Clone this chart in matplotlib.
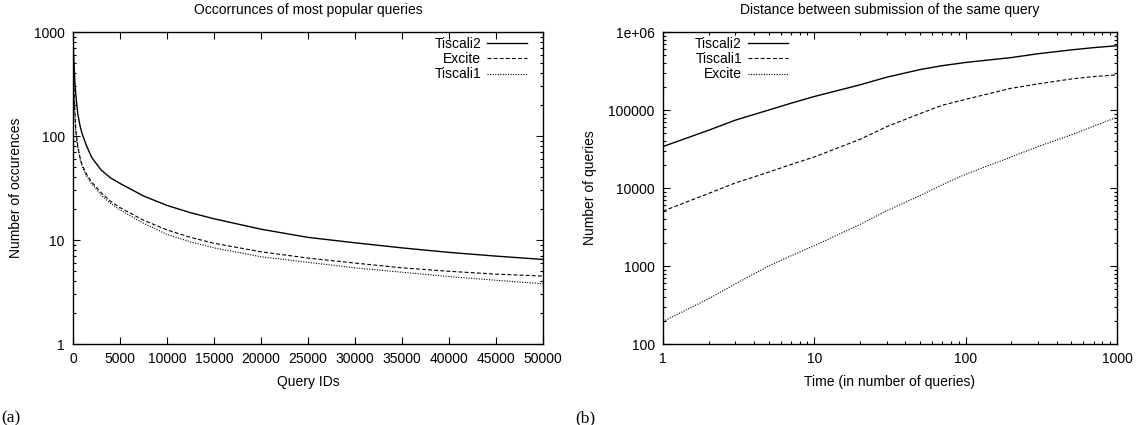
import matplotlib
matplotlib.use("Agg")
import matplotlib.pyplot as plt
from matplotlib.ticker import FixedLocator, LogLocator, NullFormatter, FixedFormatter

# ---------------- data (a) ----------------
query_ids = [1, 50, 100, 200, 300, 500, 750, 1000, 1500, 2000, 3000, 4000, 5000,
             7500, 10000, 12500, 15000, 20000, 25000, 30000, 35000, 40000, 45000, 50000]
occ_tiscali2 = [980, 650, 520, 330, 250, 165, 125, 103, 78, 62, 47, 39.5, 35,
                26.5, 21.5, 18.3, 16.0, 12.7, 10.6, 9.4, 8.4, 7.6, 7.0, 6.5]
occ_excite = [850, 420, 300, 170, 115, 80, 62, 52, 42, 36, 28.5, 23.5, 20.5,
              15.5, 12.5, 10.6, 9.3, 7.7, 6.7, 6.0, 5.4, 5.0, 4.7, 4.5]
occ_tiscali1 = [750, 380, 270, 160, 110, 78, 60, 50, 40, 34.5, 27, 22.5, 19.5,
                14.5, 11.3, 9.6, 8.4, 6.9, 6.1, 5.4, 4.9, 4.45, 4.1, 3.8]

# ---------------- data (b) ----------------
time_q = [1, 2, 3, 5, 7, 10, 20, 30, 50, 70, 100, 200, 300, 500, 700, 1000]
dist_tiscali2 = [34000, 55000, 74000, 100000, 122000, 149000, 210000, 263000,
                 330000, 370000, 407000, 470000, 526000, 590000, 630000, 667000]
dist_tiscali1 = [5060, 8500, 11600, 16000, 20000, 25000, 42000, 61000,
                 90000, 115000, 137000, 190000, 216000, 250000, 268000, 282000]
dist_excite = [194, 380, 590, 1000, 1350, 1820, 3400, 5100,
               8000, 11000, 15000, 25000, 34000, 48000, 62000, 80500]

a_xticks = [0, 5000, 10000, 15000, 20000, 25000, 30000, 35000, 40000, 45000, 50000]
a_yticks = [1, 10, 100, 1000]
a_ylabels = ["1", "10", "100", "1000"]
b_xticks = [1, 10, 100, 1000]
b_xlabels = ["1", "10", "100", "1000"]
b_yticks = [100, 1000, 10000, 100000, 1000000]
b_ylabels = ["100", "1000", "10000", "100000", "1e+06"]

plt.rcParams['font.family'] = ['Liberation Sans', 'DejaVu Sans']
FS = 10

fig = plt.figure(figsize=(11.36, 4.25), dpi=100)
axA = fig.add_axes([73/1136, 1-344/425, (543-73)/1136, (344-32)/425])
axB = fig.add_axes([663/1136, 1-344/425, (1117-663)/1136, (344-32)/425])

solid = dict(color='black', linewidth=1.0, linestyle='-')
dashed = dict(color='black', linewidth=0.8, linestyle=(0, (3.5, 2)))
dotted = dict(color='black', linewidth=0.8, linestyle=(0, (1, 1.3)))

leg_kw = dict(frameon=False, fontsize=FS, markerfirst=False, handlelength=2.9,
              handletextpad=0.4, labelspacing=0.1, borderaxespad=0.0, borderpad=0.0)

# (a)
axA.plot(query_ids, occ_tiscali2, label='Tiscali2', **solid)
axA.plot(query_ids, occ_excite, label='Excite', **dashed)
axA.plot(query_ids, occ_tiscali1, label='Tiscali1', **dotted)
axA.set_yscale('log')
axA.set_xlim(0, 50000)
axA.set_ylim(1, 1000)
axA.xaxis.set_major_locator(FixedLocator(a_xticks))
axA.set_xticklabels([str(t) for t in a_xticks])
axA.yaxis.set_major_locator(FixedLocator(a_yticks))
axA.yaxis.set_major_formatter(FixedFormatter(a_ylabels))
axA.yaxis.set_minor_locator(LogLocator(base=10, subs=range(2, 10)))
axA.yaxis.set_minor_formatter(NullFormatter())
axA.set_title('Occorrunces of most popular queries', fontsize=FS, pad=13)
axA.set_xlabel('Query IDs', fontsize=FS, labelpad=6)
axA.set_ylabel('Number of occurences', fontsize=FS, labelpad=8)
axA.legend(loc='upper right', bbox_to_anchor=(0.966, 0.985), **leg_kw)

# (b)
axB.plot(time_q, dist_tiscali2, label='Tiscali2', **solid)
axB.plot(time_q, dist_tiscali1, label='Tiscali1', **dashed)
axB.plot(time_q, dist_excite, label='Excite', **dotted)
axB.set_xscale('log')
axB.set_yscale('log')
axB.set_xlim(1, 1000)
axB.set_ylim(100, 1e6)
axB.xaxis.set_major_locator(FixedLocator(b_xticks))
axB.xaxis.set_major_formatter(FixedFormatter(b_xlabels))
axB.xaxis.set_minor_locator(LogLocator(base=10, subs=range(2, 10)))
axB.xaxis.set_minor_formatter(NullFormatter())
axB.yaxis.set_major_locator(FixedLocator(b_yticks))
axB.yaxis.set_major_formatter(FixedFormatter(b_ylabels))
axB.yaxis.set_minor_locator(LogLocator(base=10, subs=range(2, 10)))
axB.yaxis.set_minor_formatter(NullFormatter())
axB.set_title('Distance between submission of the same query', fontsize=FS, pad=13)
axB.set_xlabel('Time (in number of queries)', fontsize=FS, labelpad=6)
axB.set_ylabel('Number of queries', fontsize=FS, labelpad=8)
axB.legend(loc='upper right', bbox_to_anchor=(0.275, 0.985), **leg_kw)

for ax in (axA, axB):
    ax.tick_params(which='both', direction='in', top=True, right=True,
                   labelsize=FS, width=0.8, pad=6)
    ax.tick_params(which='major', length=5)
    ax.tick_params(which='minor', length=2.5)
    for s in ax.spines.values():
        s.set_linewidth(1.0)

fig.text(1/1136, 1-418/425, '(a)', family=['Liberation Serif', 'DejaVu Serif'],
         fontsize=12.5, va='center', ha='left')
fig.text(575/1136, 1-418/425, '(b)', family=['Liberation Serif', 'DejaVu Serif'],
         fontsize=12.5, va='center', ha='left')

fig.savefig('out.png', dpi=100)
